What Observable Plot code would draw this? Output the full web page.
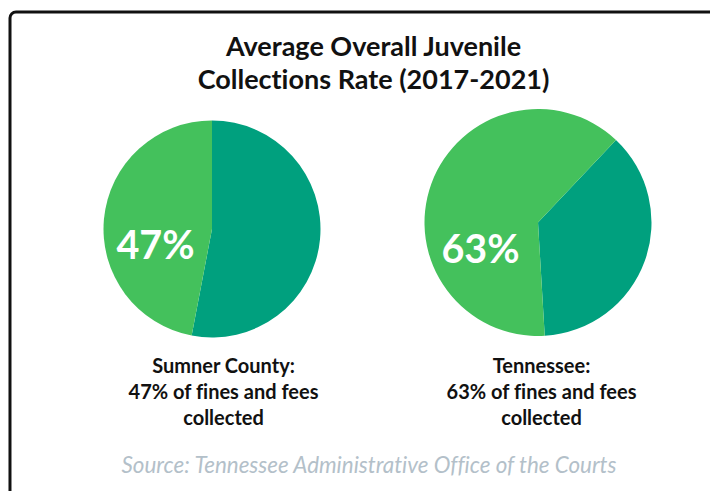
<!DOCTYPE html>
<html><head><meta charset="utf-8">
<script src="https://cdn.jsdelivr.net/npm/d3@7"></script>
<script src="https://cdn.jsdelivr.net/npm/@observablehq/plot@0.6"></script>
<style>html,body{margin:0;padding:0;background:#fff;overflow:hidden}#chart{width:710px;height:491px}svg text{font-variant-ligatures:none;font-feature-settings:"liga" 0}</style>
</head><body><div id="chart"></div>
<script>
const regions = ["Sumner County", "Tennessee"];
const collected = [47, 63];
const notCollected = [53, 37];
const captionHeads = ["Sumner County:", "Tennessee:"];
const captionBodies = ["47% of fines and fees", "63% of fines and fees"];
const captionTails = ["collected", "collected"];
const titleLines = ["Average Overall Juvenile", "Collections Rate (2017-2021)"];
const sourceText = "Source: Tennessee Administrative Office of the Courts";

const pieStyle = [
  {r: 108.5, start: 0, cy: 229, labelDx: -57, labelBase: 258, capDx: 11},
  {r: 113.5, start: 43.4, cy: 222.5, labelDx: -58, labelBase: 262, capDx: 3}
];
const TEAL = "#00a07e", GREEN = "#44c15c";
const FONT = "Lato";

function pies(index, scales) {
  const g = d3.create("svg:g");
  regions.forEach((name, i) => {
    const s = pieStyle[i];
    const a0 = s.start * Math.PI / 180;
    const arcs = d3.pie().sort(null).startAngle(a0).endAngle(a0 + 2 * Math.PI)([notCollected[i], collected[i]]);
    const arc = d3.arc().innerRadius(0).outerRadius(s.r);
    g.append("g").attr("transform", `translate(${scales.x(name)},${s.cy})`)
      .selectAll("path").data(arcs).join("path")
      .attr("d", arc).attr("fill", (d, j) => j === 0 ? TEAL : GREEN);
  });
  return g.node();
}

const textBase = {frameAnchor: "top", lineAnchor: "bottom", fontFamily: FONT, fill: "#111"};
const marks = [
  Plot.frame({stroke: "#111", strokeWidth: 3, rx: 6, insetLeft: 9.5, insetTop: 11.5, insetRight: -40, insetBottom: -40}),
  pies,
  Plot.text([titleLines[0]], {...textBase, text: d => d, dx: 18, dy: 55, fontSize: 27, fontWeight: "bold"}),
  Plot.text([titleLines[1]], {...textBase, text: d => d, dx: 18, dy: 88, fontSize: 27, fontWeight: "bold"}),
  Plot.text([sourceText], {...textBase, text: d => d, dx: 13.5, dy: 472, fontSize: 22.4, fontStyle: "italic", fill: "#b3c0c9"})
];
regions.forEach((name, i) => {
  const s = pieStyle[i];
  marks.push(
    Plot.text([name], {...textBase, x: d => d, text: () => collected[i] + "%", dx: s.labelDx, dy: s.labelBase, fontSize: 39.5, fontWeight: "bold", fill: "white"}),
    Plot.text([name], {...textBase, x: d => d, text: () => captionHeads[i], dx: s.capDx, dy: 372, fontSize: 20, fontWeight: "bold"}),
    Plot.text([name], {...textBase, x: d => d, text: () => captionBodies[i], dx: s.capDx, dy: 398, fontSize: 20, fontWeight: "bold"}),
    Plot.text([name], {...textBase, x: d => d, text: () => captionTails[i], dx: s.capDx, dy: 424, fontSize: 20, fontWeight: "bold"})
  );
});

const chart = Plot.plot({
  width: 710, height: 491, margin: 0,
  x: {type: "point", domain: regions, range: [212, 538], padding: 0, axis: null},
  style: {background: "white", overflow: "hidden"},
  marks
});
document.getElementById("chart").append(chart);
</script>
</body></html>
